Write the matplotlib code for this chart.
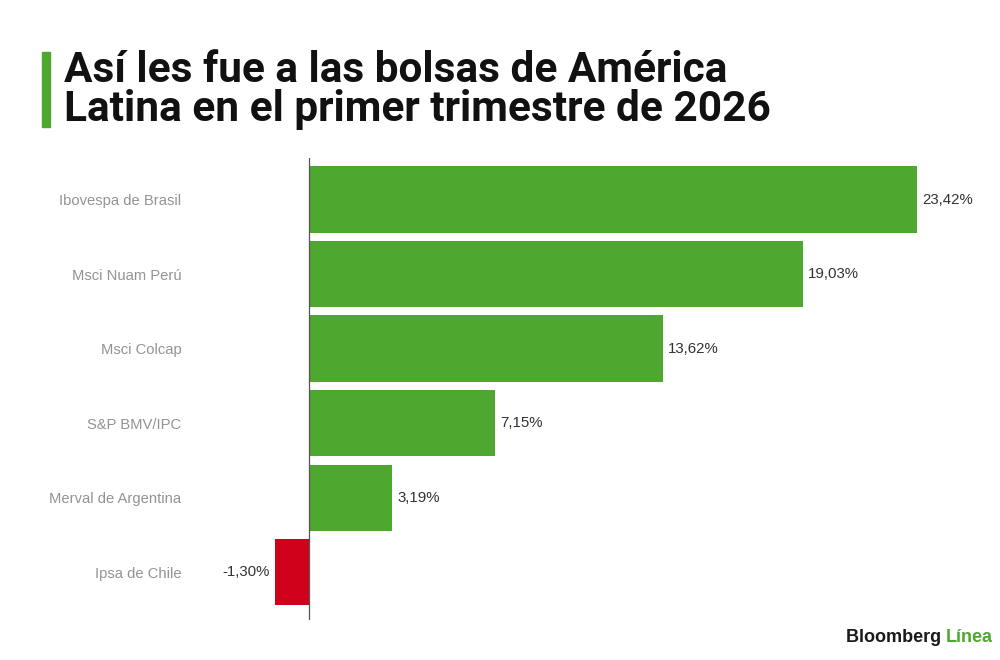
import matplotlib.pyplot as plt
import matplotlib.patches as mpatches
from matplotlib import font_manager

# data
indices = ['Ibovespa de Brasil', 'Msci Nuam Perú', 'Msci Colcap',
           'S&P BMV/IPC', 'Merval de Argentina', 'Ipsa de Chile']
returns = [23.42, 19.03, 13.62, 7.15, 3.19, -1.30]

GREEN = '#4ea72e'
RED = '#d0021b'

names = {f.name for f in font_manager.fontManager.ttflist}
title_font = 'Liberation Sans Narrow' if 'Liberation Sans Narrow' in names else 'Roboto'

fig = plt.figure(figsize=(10, 6.6), dpi=100)
fig.patch.set_facecolor('white')

# axes placed so zero sits at ~x=309px
ax = fig.add_axes([0.23, 1 - 620 / 660, 0.76, 462 / 660])
scale = 25.96
ax.set_xlim((230 - 309) / scale, (990 - 309) / scale)
ax.set_ylim(5.64, -0.557)

colors = [GREEN if v >= 0 else RED for v in returns]
ypos = list(range(len(indices)))
ax.barh(ypos, returns, height=0.89, color=colors, zorder=2)

for y, v in zip(ypos, returns):
    label = f'{v:.2f}%'.replace('.', ',')
    if v >= 0:
        ax.text(v + 0.2, y, label, va='center', ha='left', fontsize=10.8,
                color='#333333', family='Liberation Sans')
    else:
        ax.text(v - 0.2, y, label, va='center', ha='right', fontsize=10.8,
                color='#333333', family='Liberation Sans')

ax.set_yticks(ypos)
ax.set_yticklabels(indices, fontsize=10.6, color='#939393', family='Liberation Sans')
ax.tick_params(axis='y', length=0, pad=35)
ax.set_xticks([])
for s in ['top', 'right', 'bottom', 'left']:
    ax.spines[s].set_visible(False)
ax.axvline(0, color='#555555', lw=0.9, zorder=3)

# title with green accent bar
fig.patches.append(mpatches.Rectangle((42 / 1000, 1 - 127 / 660), 8 / 1000, 75 / 660,
                                      transform=fig.transFigure, color=GREEN))
fig.text(0.064, 1 - 70 / 660, 'Así les fue a las bolsas de América', fontsize=30.5,
         fontweight='bold', family=title_font, color='#111111', va='center')
fig.text(0.064, 1 - 109 / 660, 'Latina en el primer trimestre de 2026', fontsize=30.5,
         fontweight='bold', family=title_font, color='#111111', va='center')

# brand
t = fig.text(0.846, 1 - 638 / 660, 'Bloomberg ', fontsize=13, fontweight='bold',
             family='Liberation Sans', color='#1a1a1a', va='center')
fig.canvas.draw()
bb = t.get_window_extent()
fig.text(bb.x1 / 1000, 1 - 638 / 660, 'Línea', fontsize=13, fontweight='bold',
         family='Liberation Sans', color=GREEN, va='center')

fig.savefig('out.png', dpi=100)
